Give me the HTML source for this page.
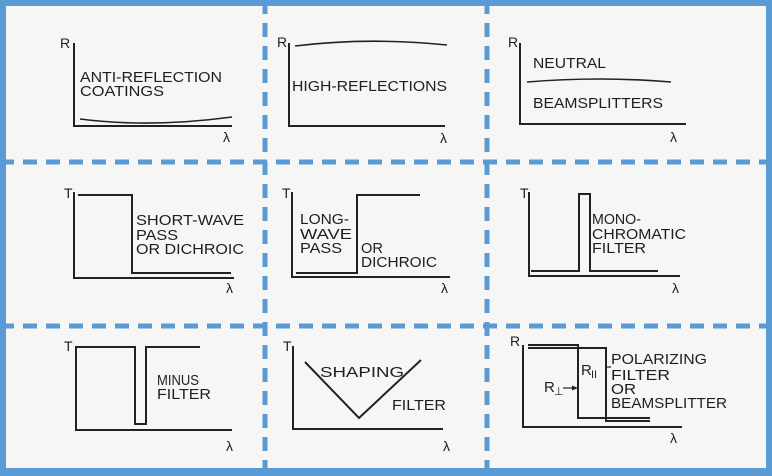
<!DOCTYPE html>
<html><head><meta charset="utf-8"><style>
html,body{margin:0;padding:0;background:#fff}
svg{display:block}
text{font-family:"Liberation Sans",Arial,sans-serif;font-size:15px;fill:#1e1e1e}
text.ax{font-size:14px}
</style></head><body>
<svg width="772" height="476" viewBox="0 0 772 476" xmlns="http://www.w3.org/2000/svg">
<rect x="0" y="0" width="772" height="476" fill="#f6f6f4"/>
<g fill="none" stroke="#222" stroke-width="2">
<path d="M74,43 V126 H232"/>
<path d="M80,119 Q150,128 232,117" stroke-width="1.6"/>
<path d="M289,43 V126 H445"/>
<path d="M295,46 Q370,37 447,45" stroke-width="1.6"/>
<path d="M520,43 V124 H686"/>
<path d="M527,82 Q600,76 671,82" stroke-width="1.6"/>
<path d="M74,192 V278 H234"/>
<path d="M78,195 H132 V273 H231"/>
<path d="M292,192 V277 H450"/>
<path d="M296,273 H357 V195 H420"/>
<path d="M529,192 V276 H680"/>
<path d="M531,271 H579 V194 H590 V271 H658"/>
<path d="M76,346 V430 H232"/>
<path d="M76,347 H135 V424 H146 V347 H200"/>
<path d="M293,346 V429 H443"/>
<path d="M305,362 L359,418 L421,360"/>
<path d="M523,345 V427 H682"/>
<path d="M528,345 H578 V418 H650"/>
<path d="M528,348 H606 V421 H650"/>
<path d="M563,388 H576" stroke-width="1.2"/>
<path d="M607,367 H611" stroke-width="1.2"/>
</g>
<path d="M578,388 L572,385.5 L572,390.5 Z" fill="#222"/>
<g>
<text class="ax" x="60" y="48">R</text>
<text class="ax" x="223" y="142">λ</text>
<text x="80" y="82" textLength="142" lengthAdjust="spacingAndGlyphs">ANTI-REFLECTION</text>
<text x="80" y="96" textLength="84" lengthAdjust="spacingAndGlyphs">COATINGS</text>

<text class="ax" x="277" y="47">R</text>
<text class="ax" x="440" y="143">λ</text>
<text x="292" y="91" textLength="155" lengthAdjust="spacingAndGlyphs">HIGH-REFLECTIONS</text>

<text class="ax" x="508" y="47">R</text>
<text class="ax" x="670" y="142">λ</text>
<text x="533" y="68" textLength="73" lengthAdjust="spacingAndGlyphs">NEUTRAL</text>
<text x="533" y="108" textLength="130" lengthAdjust="spacingAndGlyphs">BEAMSPLITTERS</text>

<text class="ax" x="64" y="198">T</text>
<text class="ax" x="226" y="293">λ</text>
<text x="136" y="225" textLength="108" lengthAdjust="spacingAndGlyphs">SHORT-WAVE</text>
<text x="136" y="240" textLength="42" lengthAdjust="spacingAndGlyphs">PASS</text>
<text x="136" y="254" textLength="108" lengthAdjust="spacingAndGlyphs">OR DICHROIC</text>

<text class="ax" x="282" y="198">T</text>
<text class="ax" x="441" y="293">λ</text>
<text x="300" y="224" textLength="49" lengthAdjust="spacingAndGlyphs">LONG-</text>
<text x="300" y="239" textLength="52" lengthAdjust="spacingAndGlyphs">WAVE</text>
<text x="300" y="253" textLength="42" lengthAdjust="spacingAndGlyphs">PASS</text>
<text x="361" y="253" textLength="22" lengthAdjust="spacingAndGlyphs">OR</text>
<text x="361" y="267" textLength="76" lengthAdjust="spacingAndGlyphs">DICHROIC</text>

<text class="ax" x="520" y="198">T</text>
<text class="ax" x="672" y="293">λ</text>
<text x="592" y="224" textLength="49" lengthAdjust="spacingAndGlyphs">MONO-</text>
<text x="592" y="239" textLength="94" lengthAdjust="spacingAndGlyphs">CHROMATIC</text>
<text x="592" y="253" textLength="54" lengthAdjust="spacingAndGlyphs">FILTER</text>

<text class="ax" x="64" y="351">T</text>
<text class="ax" x="226" y="451">λ</text>
<text x="157" y="385" textLength="42" lengthAdjust="spacingAndGlyphs">MINUS</text>
<text x="157" y="399" textLength="54" lengthAdjust="spacingAndGlyphs">FILTER</text>

<text class="ax" x="283" y="351">T</text>
<text class="ax" x="443" y="451">λ</text>
<text x="320" y="377" textLength="84" lengthAdjust="spacingAndGlyphs">SHAPING</text>
<text x="392" y="410" textLength="54" lengthAdjust="spacingAndGlyphs">FILTER</text>

<text class="ax" x="510" y="346">R</text>
<text class="ax" x="670" y="443">λ</text>
<text x="581" y="375">R</text><text x="591" y="378" style="font-size:11px">II</text>
<text x="544" y="392">R</text><text x="554" y="395" style="font-size:11px">⊥</text>
<text x="611" y="364" textLength="96" lengthAdjust="spacingAndGlyphs">POLARIZING</text>
<text x="611" y="380" textLength="59" lengthAdjust="spacingAndGlyphs">FILTER</text>
<text x="611" y="394" textLength="25" lengthAdjust="spacingAndGlyphs">OR</text>
<text x="611" y="408" textLength="116" lengthAdjust="spacingAndGlyphs">BEAMSPLITTER</text>
</g>
<g stroke="#5b9bd5" fill="none">
<path d="M265,0 V476" stroke-width="5" stroke-dasharray="14,9"/>
<path d="M487,0 V476" stroke-width="5" stroke-dasharray="14,9"/>
<path d="M0,162 H772" stroke-width="5" stroke-dasharray="14,9"/>
<path d="M0,326 H772" stroke-width="5" stroke-dasharray="14,9"/>
<rect x="3" y="3" width="766" height="468" stroke-width="6"/>
<path d="M0,473 H772" stroke-width="6"/>
</g>
</svg>
</body></html>
